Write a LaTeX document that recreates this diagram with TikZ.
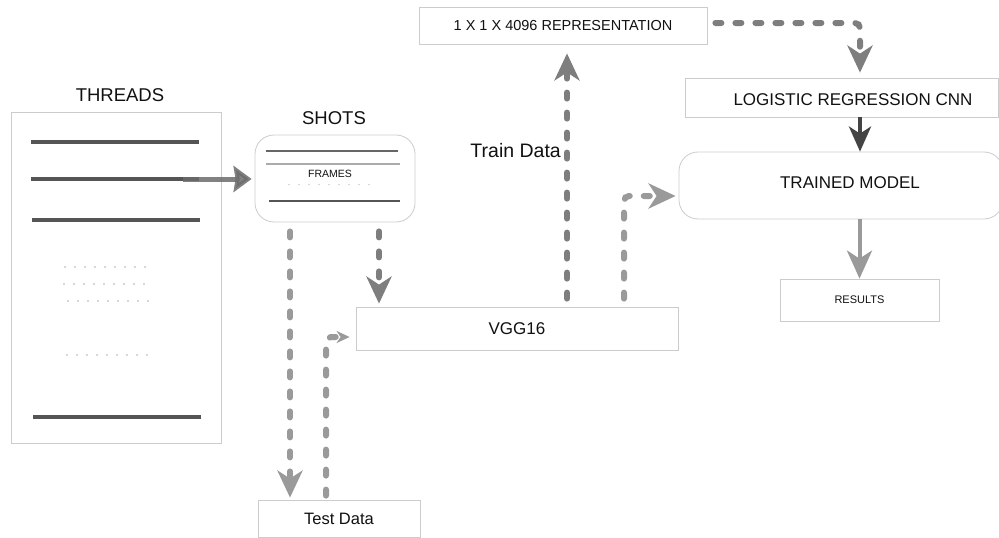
\documentclass[tikz,border=0pt]{standalone}
\usepackage{fontspec}
\setmainfont{Liberation Sans}
\usetikzlibrary{arrows.meta,calc}
\definecolor{boxline}{HTML}{CCCCCC}
\definecolor{txt}{HTML}{111111}
\definecolor{threadc}{HTML}{555555}
\definecolor{dashA}{HTML}{9A9A9A}
\definecolor{dashB}{HTML}{7E7E7E}
\definecolor{darkarr}{HTML}{444444}
\definecolor{dotc}{HTML}{B0B0B0}
\begin{document}
\begin{tikzpicture}[x=1pt,y=-1pt,
  box/.style={draw=boxline, line width=0.8pt, fill=white, inner sep=0pt, text=txt},
  rbox/.style={box, rounded corners=19pt},
  fsz/.style={font=\fontsize{#1}{#1}\selectfont},
  lbl/.style={text=txt, inner sep=0pt, fsz=#1},
  threadline/.style={draw=threadc, line width=4pt},
  dotline/.style={draw=dotc, line width=1.6pt, line cap=round, dash pattern=on 0pt off 10pt},
  dline/.style={draw=#1, line width=6pt, line cap=round, dash pattern=on 6pt off 14pt, rounded corners=5pt},
  bigtip/.style={-{Stealth[length=27pt,width=25pt,inset=8pt]}},
  smalltip/.style={-{Stealth[length=13pt,width=12pt,inset=4pt]}},
]
\useasboundingbox (0,0) rectangle (999,538);
\fill[white] (0,0) rectangle (999,538);

% THREADS
\node[lbl=18.5] (threadslbl) at (120,95) {THREADS};
\node[box, minimum width=210pt, minimum height=331pt] (threads) at (116,277.5) {};
\draw[threadline] (31,142) -- (199,142);
\draw[threadline] (31,179) -- (199,179);
\draw[threadline] (32,220) -- (200,220);
\draw[threadline] (33,417) -- (201,417);
\draw[dotline] (65,267) -- (155,267);
\draw[dotline] (64,284) -- (154,284);
\draw[dotline] (68,301) -- (157,301);
\draw[dotline] (67,355) -- (156,355);

% SHOTS
\node[lbl=18.5] (shotslbl) at (334,118) {SHOTS};
\node[rbox, minimum width=160pt, minimum height=87pt] (shots) at (335,178.5) {};
\draw[draw=threadc!90!white, line width=2pt] (266,151) -- (398,151);
\draw[draw=black!33, line width=2pt] (266,164) -- (400,164);
\draw[draw=threadc, line width=2pt] (269,201) -- (400,201);
\node[lbl=10.5] (frames) at (330,174) {FRAMES};
\draw[dotline, line width=1.4pt] (289,184.5) -- (378,184.5);

% other boxes
\node[box, fsz=17, minimum width=322pt, minimum height=43pt] (vgg) at (517,328.5) {VGG16};
\node[box, fsz=16.5, minimum width=162pt, minimum height=37pt] (test) at (339,518.5) {Test Data};
\node[box, fsz=14.5, minimum width=288pt, minimum height=37pt] (rep) at (563,25.5) {1 X 1 X 4096 REPRESENTATION};
\node[box, minimum width=313pt, minimum height=39pt] (logi) at (841.5,97.5) {};
\node[lbl=17] (logitxt) at (853,100) {LOGISTIC REGRESSION CNN};
\node[rbox, minimum width=324pt, minimum height=67pt] (trained) at (841,185.5) {};
\node[lbl=17] (trainedtxt) at (850,183) {TRAINED MODEL};
\node[box, fsz=11, minimum width=159pt, minimum height=42pt] (results) at (859.5,300) {RESULTS};
\node[lbl=19.5, anchor=east] (traindata) at (561,151) {Train Data};

% connectors
\coordinate (tstart) at (183,179);
\draw[draw=black!58, opacity=0.85, line width=5pt, -{Stealth[length=18pt,width=26pt,inset=2pt]}, shorten >=3pt]
  (tstart) -- (tstart -| shots.west);

\coordinate (sv) at ([xshift=44pt,yshift=-9pt]shots.south);
\draw[dline=dashB, bigtip, shorten >=3pt] (sv) -- (sv |- vgg.north);

\coordinate (st) at ([xshift=-45pt,yshift=-9pt]shots.south);
\draw[dline=dashA, bigtip, shorten >=2pt] (st) -- (st |- test.north);

\coordinate (tvA) at ([xshift=-13pt,yshift=4pt]test.north);
\coordinate (tvB) at ([yshift=-8.5pt]vgg.west);
\draw[dline=dashA, smalltip, shorten >=6pt] (tvA) -- (tvA |- tvB) -- (tvB);

\coordinate (vr) at ([xshift=50pt,yshift=8pt]vgg.north);
\draw[dline=dashB, bigtip, shorten >=9pt] (vr) -- (vr |- rep.south);

\coordinate (vt) at ([xshift=107pt,yshift=8pt]vgg.north);
\coordinate (vtE) at ([yshift=-10.5pt]trained.west);
\draw[dline=dashA, bigtip, shorten >=3pt] (vt) -- (vt |- vtE) -- (vtE);

\coordinate (rl) at ([xshift=8pt,yshift=2.5pt]rep.east);
\coordinate (rlE) at ([xshift=18.5pt]logi.north);
\draw[dline=dashB, bigtip, shorten >=5pt] (rl) -- (rl -| rlE) -- (rlE);

\coordinate (lt) at ([xshift=18.5pt]logi.south);
\draw[draw=darkarr, line width=4pt, -{Stealth[length=25pt,width=22pt,inset=7pt]}] (lt) -- (lt |- trained.north);

\draw[draw=dashA, line width=4pt, -{Stealth[length=28pt,width=25pt,inset=8pt]}] (trained.south -| results.north) -- (results.north);
\end{tikzpicture}
\end{document}
